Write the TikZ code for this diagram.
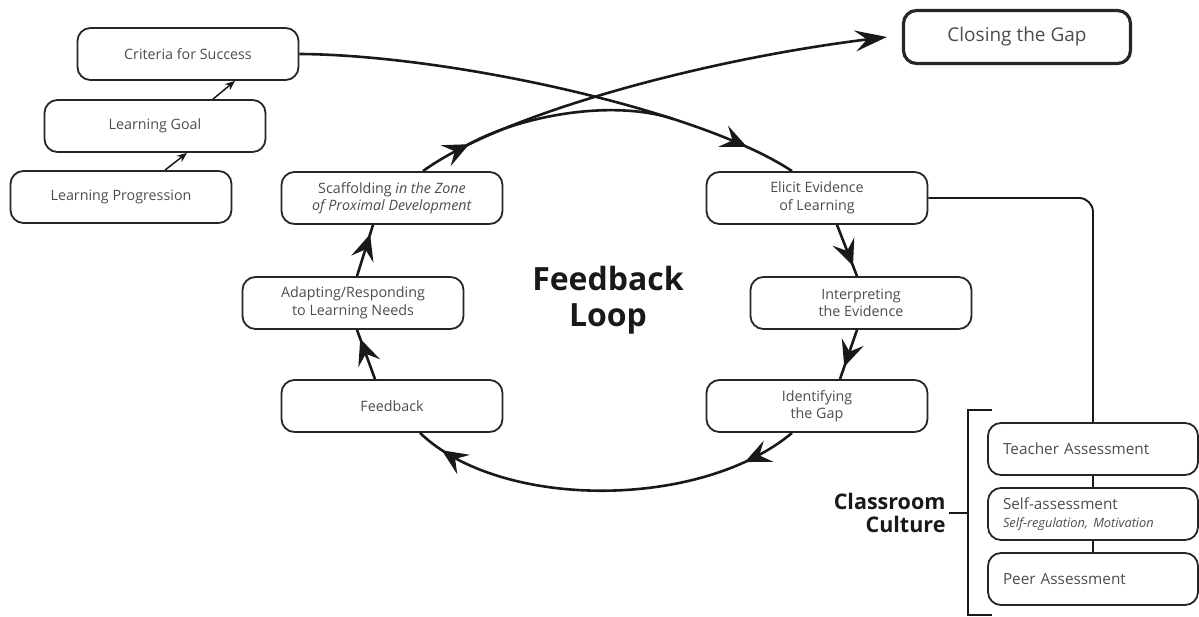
\documentclass[tikz,border=0pt]{standalone}
\usepackage{fontspec}
\setmainfont{Open Sans}
\usetikzlibrary{arrows.meta,decorations.markings}

\tikzset{
  box/.style={draw=black!85,line width=1.8pt,rounded corners=13pt,minimum width=221pt,
    minimum height=52pt,align=center,text=black!70,inner sep=2pt,
    font=\fontsize{14.3}{17.5}\selectfont},
  closebox/.style={box,line width=3.2pt,minimum width=227pt,minimum height=53pt,
    font=\fontsize{19}{22}\selectfont},
  sidebox/.style={box,minimum width=210pt,text width=180pt,inner xsep=15pt,align=left,
    font=\fontsize{15.3}{18}\selectfont},
  loopline/.style={draw=black!90,line width=2.6pt},
  thinline/.style={draw=black!90,line width=1.9pt},
  midarrow/.style={postaction={decorate,decoration={markings,
    mark=at position #1 with {\arrow{Stealth[length=26pt,width=23pt,inset=10pt]}}}}}
}

\begin{document}
\begin{tikzpicture}[x=1pt,y=-1pt]
\useasboundingbox (0,0) rectangle (1199,617);

% left hand boxes
\node[box] (crit) at (188,54) {Criteria for Success};
\node[box] (goal) at (155,126) {Learning Goal};
\node[box] (prog) at (121,197) {Learning Progression};

% the loop
\node[box] (scaff) at (392,198) {Scaffolding \textit{in the Zone}\\\textit{of Proximal Development}};
\node[box] (adapt) at (353,303) {Adapting/Responding\\to Learning Needs};
\node[box] (fb) at (392,406) {Feedback};
\node[box] (elicit) at (817,198) {Elicit Evidence\\of Learning};
\node[box] (interp) at (861,303) {Interpreting\\the Evidence};
\node[box] (ident) at (817,406) {Identifying\\the Gap};
\node[closebox] (close) at (1017,37) {Closing the Gap};
\node[text=black!90,align=center,font=\fontsize{32}{36}\selectfont\bfseries] (title) at (608,300) {Feedback\\Loop};

% assessment boxes
\node[sidebox] (teach) at (1093,449) {Teacher Assessment};
\node[sidebox] (self) at (1093,514) {Self-assessment\\{\fontsize{12.8}{15}\selectfont\itshape Self-regulation, Motivation}};
\node[sidebox] (peer) at (1093,579) {Peer Assessment};
\node[anchor=east,align=right,text=black!90,font=\fontsize{21.5}{23}\selectfont\bfseries] (culture) at (949,513) {Classroom\\Culture};

% small arrows
\draw[thinline,line width=1.5pt,-{Stealth[length=10pt,width=8pt]}] ([xshift=44pt]prog.north) -- ([xshift=32pt]goal.south);
\draw[thinline,line width=1.5pt,-{Stealth[length=10pt,width=8pt]}] ([xshift=58pt]goal.north) -- ([xshift=47pt]crit.south);

% criteria into the loop, and out to closing the gap
\draw[loopline,midarrow=0.9] (crit.east) .. controls (450,55) and (700,110) .. coordinate[pos=0.7] (merge) ([xshift=-25pt]elicit.north);
\draw[loopline,midarrow=0.11,-{Stealth[length=32pt,width=21pt,inset=12pt]}] ([xshift=31pt]scaff.north) .. controls (500,115) and (700,60) .. coordinate[pos=0.15] (split) ([xshift=-15pt]close.west);
\draw[loopline] (split) .. controls (520,115) and (613,99) .. (merge);

\draw[loopline,midarrow=0.8] ([xshift=20pt]elicit.south) -- ([xshift=-4pt]interp.north);
\draw[loopline,midarrow=0.75] ([xshift=-4pt]interp.south) -- ([xshift=23pt]ident.north);
\draw[loopline,midarrow=0.14,midarrow=0.93] ([xshift=-25pt]ident.south) .. controls (700,510) and (500,510) .. ([xshift=28pt]fb.south);
\draw[loopline,midarrow=0.82] ([xshift=-17pt]fb.north) -- ([xshift=4pt]adapt.south);
\draw[loopline,midarrow=0.82] ([xshift=4pt]adapt.north) -- ([xshift=-19pt]scaff.south);

% classroom culture
\draw[thinline,rounded corners=14pt] (elicit.east) -| (teach.north);
\draw[thinline] (teach) -- (self) (self) -- (peer);
\draw[thinline] (992,410) -- (968,410) -- (968,615) -- (992,615);
\draw[thinline] (culture.east) -- (968,513);
\end{tikzpicture}
\end{document}
